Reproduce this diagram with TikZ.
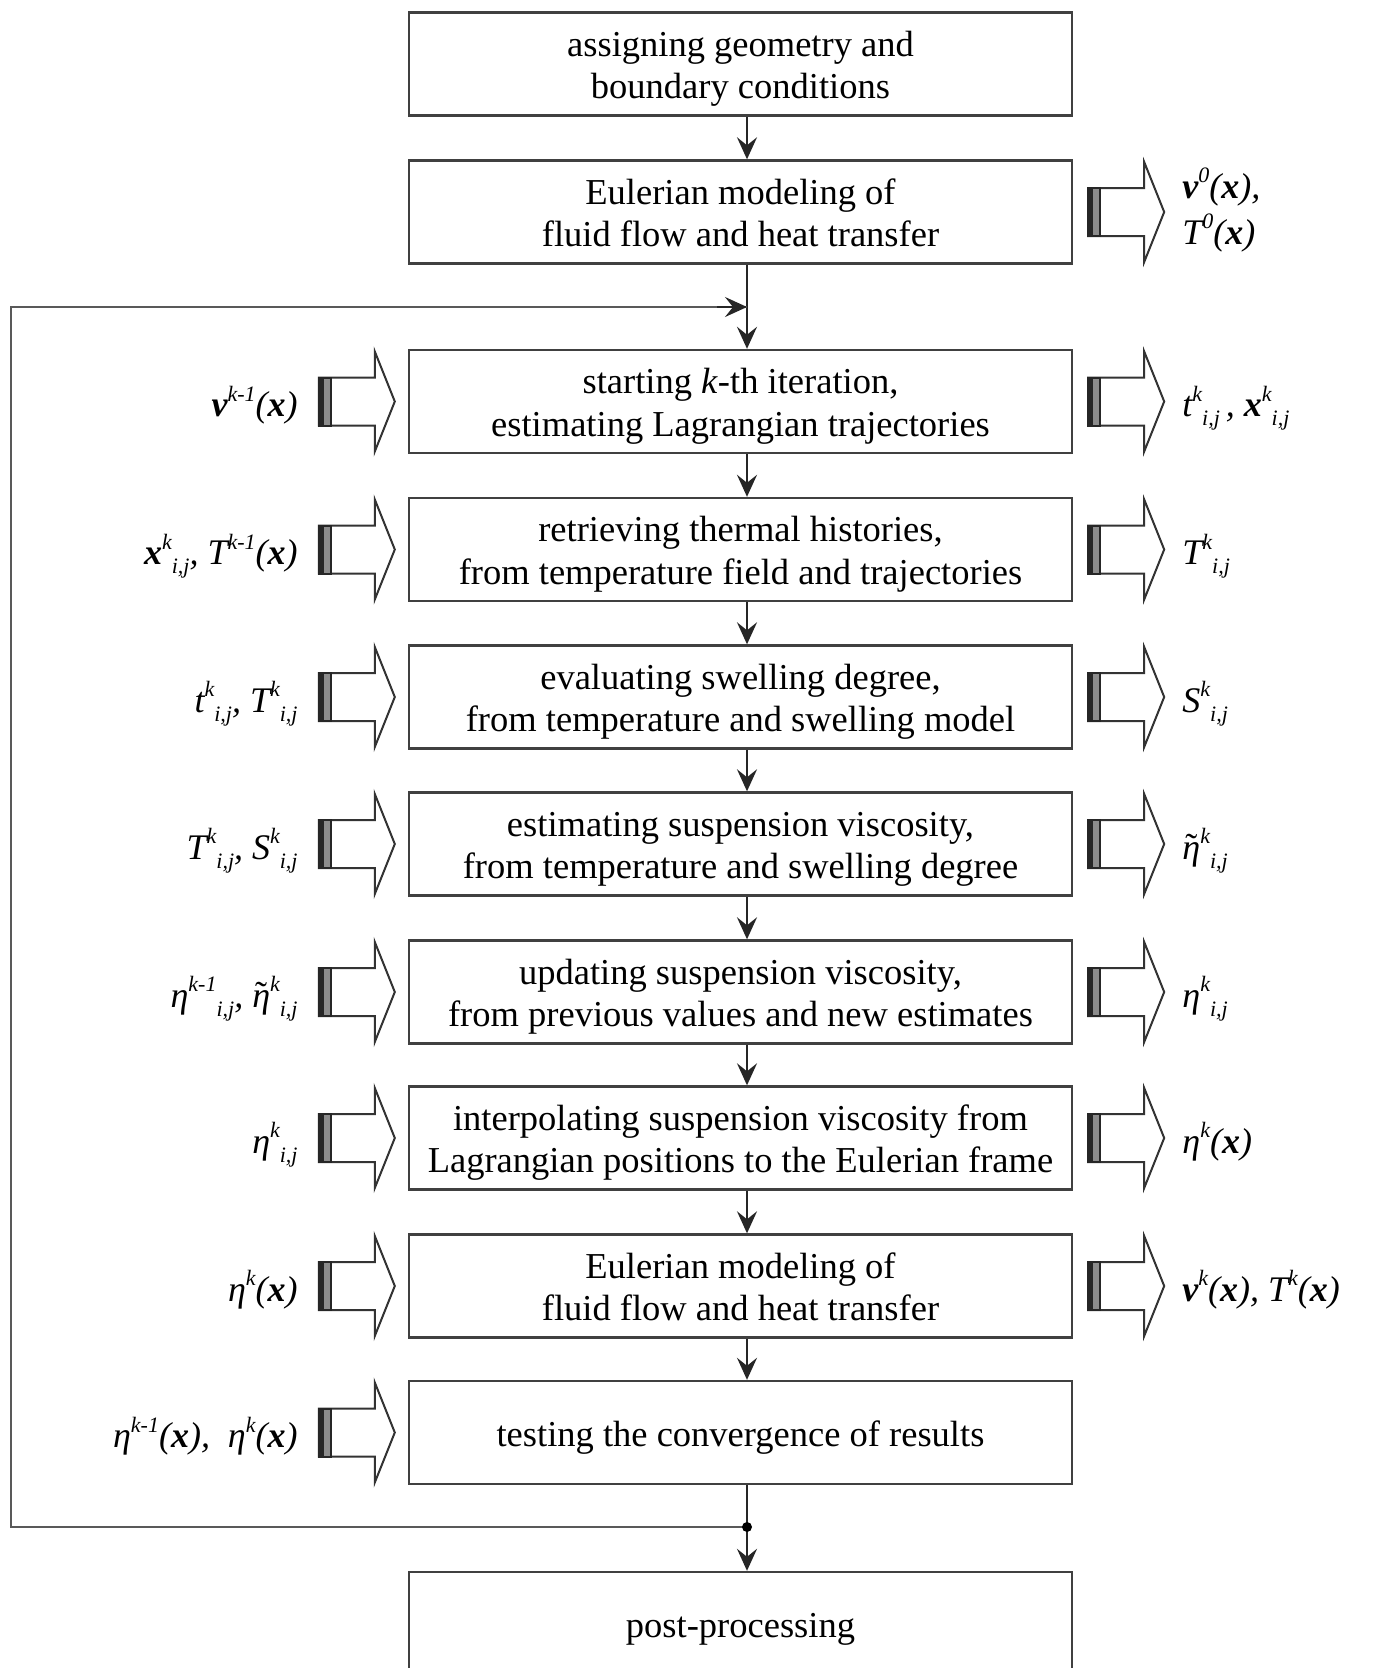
\documentclass[tikz,border=0pt]{standalone}
\usepackage{fontspec}
\setmainfont{Liberation Serif}
\usetikzlibrary{arrows.meta}
\newcommand\bv{\textbf{\textit{v}}}
\newcommand\bx{\textbf{\textit{x}}}
\newcommand\SU[1]{\raisebox{0.42em}{\fontsize{22}{22}\selectfont\itshape #1}}
\newcommand\SB[1]{\raisebox{-0.25em}{\fontsize{22}{22}\selectfont\itshape #1}}
\newcommand\teta{\leavevmode\setbox0\hbox{\itshape η}\rlap{\hbox to\wd0{\hss\raisebox{0.02em}{\upshape ˜}\hss}}\box0}
\newcommand\et{\textit{η}}
\newcommand\bt[1]{\raisebox{-5pt}[\height][\depth]{\begin{tabular}{@{}c@{}}#1\end{tabular}}}
\begin{document}
\begin{tikzpicture}[x=1pt,y=-1pt,
  box/.style={draw=black!75, line width=2.4pt, minimum width=663pt, minimum height=103pt,
    align=center, font=\fontsize{36.5}{42.5}\selectfont, inner sep=0pt},
  lab/.style={font=\fontsize{36}{46}\selectfont\itshape, inner sep=0pt, align=left},
  flow/.style={line width=2.2pt, black!85, -{Stealth[length=22pt,width=20pt,inset=8pt]}},
  loopline/.style={line width=2.6pt, black!65},
  hollow/.pic={
    \draw[line width=2pt, black!80, fill=white] (0,-24) -- (56,-24) -- (56,-50) -- (76,0) -- (56,50) -- (56,24) -- (0,24) -- cycle;
    \draw[line width=2pt, black!85, fill=black!45] (0,-24) rectangle (12,24);
    \fill[black!85] (0,-24) rectangle (5,24);
  }]
\useasboundingbox (0,0) rectangle (1378,1668);
\clip (0,0) rectangle (1378,1668);
\fill[white] (0,0) rectangle (1378,1668);

\node[box] (b1) at (740.5,64) {\bt{assigning geometry and\\boundary conditions}};
\node[box] (b2) at (740.5,212) {\bt{Eulerian modeling of\\fluid flow and heat transfer}};
\node[box] (b3) at (740.5,401.5) {\bt{starting \textit{k}-th iteration,\\estimating Lagrangian trajectories}};
\node[box] (b4) at (740.5,549.5) {\bt{retrieving thermal histories,\\from temperature field and trajectories}};
\node[box] (b5) at (740.5,697) {\bt{evaluating swelling degree,\\from temperature and swelling model}};
\node[box] (b6) at (740.5,844) {\bt{estimating suspension viscosity,\\from temperature and swelling degree}};
\node[box] (b7) at (740.5,992) {\bt{updating suspension viscosity,\\from previous values and new estimates}};
\node[box] (b8) at (740.5,1138) {\bt{interpolating suspension viscosity from\\Lagrangian positions to the Eulerian frame}};
\node[box] (b9) at (740.5,1286) {\bt{Eulerian modeling of\\fluid flow and heat transfer}};
\node[box] (b10) at (740.5,1432.5) {\bt{testing the convergence of results}};
\node[box] (post) at (740.5,1623.5) {\bt{post-processing}};

\coordinate (col) at (747,0);
\coordinate (jt) at (747,307);
\coordinate (jn) at (747,1527);
\coordinate (lt) at (11,307);
\coordinate (lb) at (11,1527);

\draw[flow] (b1.south -| col) -- (b2.north -| col);
\draw[flow] (b2.south -| col) -- (b3.north -| col);
\draw[flow] (b3.south -| col) -- (b4.north -| col);
\draw[flow] (b4.south -| col) -- (b5.north -| col);
\draw[flow] (b5.south -| col) -- (b6.north -| col);
\draw[flow] (b6.south -| col) -- (b7.north -| col);
\draw[flow] (b7.south -| col) -- (b8.north -| col);
\draw[flow] (b8.south -| col) -- (b9.north -| col);
\draw[flow] (b9.south -| col) -- (b10.north -| col);
\draw[flow] (b10.south -| col) -- (post.north -| col);
\draw[loopline] (jn) -- (lb) -- (lt) -- (jt);
\draw[flow] ([xshift=-30pt]jt) -- (jt);
\fill[black] (jn) circle (5pt);

% hollow arrows, left
\foreach \b in {b3,b4,b5,b6,b7,b8,b9,b10}{
  \pic at ([xshift=-89pt]\b.west) {hollow};
}
% hollow arrows, right
\foreach \b in {b2,b3,b4,b5,b6,b7,b8,b9}{
  \pic at ([xshift=15pt]\b.east) {hollow};
}

% left labels
\node[lab, anchor=base east] (l3) at ([xshift=-110pt,yshift=-15pt]b3.west) {\bv\SU{k-1}(\bx)};
\node[lab, anchor=base east] (l4) at ([xshift=-110pt,yshift=-15pt]b4.west) {\bx\SU{k}\SB{i,j}, \textit{T}\SU{k-1}(\bx)};
\node[lab, anchor=base east] (l5) at ([xshift=-110pt,yshift=-15pt]b5.west) {\textit{t}\SU{k}\SB{i,j}, \textit{T}\SU{k}\SB{i,j}};
\node[lab, anchor=base east] (l6) at ([xshift=-110pt,yshift=-15pt]b6.west) {\textit{T}\SU{k}\SB{i,j}, \textit{S}\SU{k}\SB{i,j}};
\node[lab, anchor=base east] (l7) at ([xshift=-110pt,yshift=-15pt]b7.west) {\et\SU{k-1}\SB{i,j}, \teta\SU{k}\SB{i,j}};
\node[lab, anchor=base east] (l8) at ([xshift=-110pt,yshift=-15pt]b8.west) {\et\SU{k}\SB{i,j}};
\node[lab, anchor=base east] (l9) at ([xshift=-110pt,yshift=-15pt]b9.west) {\et\SU{k}(\bx)};
\node[lab, anchor=base east] (l10) at ([xshift=-110pt,yshift=-15pt]b10.west) {\et\SU{k-1}(\bx),\ \ \et\SU{k}(\bx)};

% right labels
\node[lab, anchor=west] (r2) at ([xshift=109pt,yshift=2pt]b2.east) {\bv\SU{0}(\bx),\\\textit{T}\SU{0}(\bx)};
\node[lab, anchor=base west] (r3) at ([xshift=109pt,yshift=-15pt]b3.east) {\textit{t}\SU{k}\SB{i,j}\,, \bx\SU{k}\SB{i,j}};
\node[lab, anchor=base west] (r4) at ([xshift=109pt,yshift=-15pt]b4.east) {\textit{T}\SU{k}\SB{i,j}};
\node[lab, anchor=base west] (r5) at ([xshift=109pt,yshift=-15pt]b5.east) {\textit{S}\SU{k}\SB{i,j}};
\node[lab, anchor=base west] (r6) at ([xshift=109pt,yshift=-15pt]b6.east) {\teta\SU{k}\SB{i,j}};
\node[lab, anchor=base west] (r7) at ([xshift=109pt,yshift=-15pt]b7.east) {\et\SU{k}\SB{i,j}};
\node[lab, anchor=base west] (r8) at ([xshift=109pt,yshift=-15pt]b8.east) {\et\SU{k}(\bx)};
\node[lab, anchor=base west] (r9) at ([xshift=109pt,yshift=-15pt]b9.east) {\bv\SU{k}(\bx), \textit{T}\SU{k}(\bx)};
\end{tikzpicture}
\end{document}
